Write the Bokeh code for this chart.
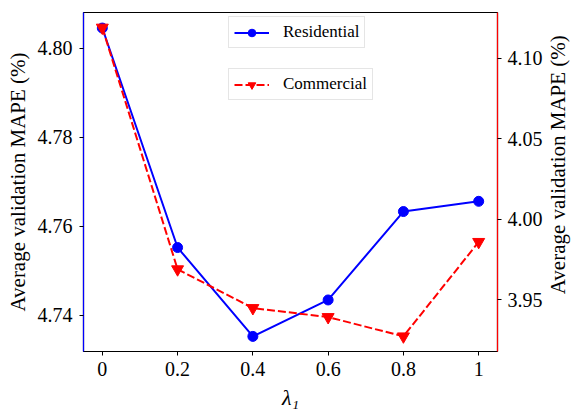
import math
from bokeh.plotting import figure
from bokeh.layouts import row
from bokeh.models import Range1d, LinearAxis, FixedTicker, Legend, LegendItem
from bokeh.core.properties import value
from bokeh.embed import file_html
from bokeh.resources import INLINE

lambdas = [0, 0.2, 0.4, 0.6, 0.8, 1.0]
x_tick_labels = ["0", "0.2", "0.4", "0.6", "0.8", "1"]
residential = [4.8046, 4.7552, 4.7352, 4.7434, 4.7633, 4.7656]
commercial = [4.1190, 3.9688, 3.9447, 3.9391, 3.9271, 3.9858]
left_ticks = [4.74, 4.76, 4.78, 4.80]
right_ticks = [3.95, 4.00, 4.05, 4.10]
y_label = "Average validation MAPE (%)"

FONT = "Liberation Serif"

p = figure(width=545, height=412, output_backend="svg", toolbar_location=None,
           x_range=Range1d(-0.05, 1.05), y_range=Range1d(4.7318, 4.8081),
           min_border_left=83, min_border_right=47, min_border_top=12, min_border_bottom=56)
p.extra_y_ranges = {"right": Range1d(3.9177, 4.1284)}
p.grid.visible = False
p.outline_line_color = "black"
p.outline_line_width = 1.2
p.background_fill_color = "white"
p.border_fill_color = "white"

def style_axis(ax, label, line_color, label_size):
    if label is not None:
        ax.axis_label = label
    ax.axis_label_text_font = FONT
    ax.axis_label_text_font_size = label_size
    ax.axis_label_text_color = "black"
    ax.axis_label_text_font_style = "normal"
    ax.major_label_text_font = FONT
    ax.major_label_text_font_size = "20px"
    ax.major_label_text_color = "black"
    ax.axis_line_color = line_color
    ax.axis_line_width = 1.2
    ax.major_tick_line_color = "black"
    ax.major_tick_in = 0
    ax.major_tick_out = 4
    ax.minor_tick_line_color = None

# x axis
xa = p.xaxis[0]
xa.ticker = FixedTicker(ticks=lambdas)
xa.major_label_overrides = {v: s for v, s in zip(lambdas, x_tick_labels)}
style_axis(xa, "λ₁", "black", "22px")
xa.axis_label_text_font_style = "italic"
xa.axis_label_standoff = 6
xa.major_label_standoff = 6

# left axis
ya = p.yaxis[0]
ya.ticker = FixedTicker(ticks=left_ticks)
ya.major_label_overrides = {v: "%.2f" % v for v in left_ticks}
style_axis(ya, y_label, "blue", "21px")
ya.axis_label_standoff = 5
ya.major_label_standoff = 7

# right axis: ticks and red spine
ra = LinearAxis(y_range_name="right")
ra.ticker = FixedTicker(ticks=right_ticks)
ra.major_label_overrides = {v: "%.2f" % v for v in right_ticks}
style_axis(ra, None, "red", "21px")
ra.major_label_standoff = 6
p.add_layout(ra, "right")

# series
r_line = p.line(lambdas, residential, line_color="blue", line_width=2)
r_pts = p.scatter(lambdas, residential, marker="circle", size=10,
                  fill_color="blue", line_color="blue")
c_line = p.line(lambdas, commercial, line_color="red", line_width=2,
                line_dash="8 3", y_range_name="right")
c_pts = p.scatter(lambdas, commercial, marker="inverted_triangle", size=12,
                  fill_color="red", line_color="red", y_range_name="right")

def make_legend(label, renderers, loc):
    lg = Legend(items=[LegendItem(label=label, renderers=renderers)],
                location=loc, orientation="vertical")
    lg.label_text_font = FONT
    lg.label_text_font_size = "17px"
    lg.label_text_color = "black"
    lg.glyph_width = 35
    lg.glyph_height = 19
    lg.label_standoff = 14
    lg.padding = 5
    lg.margin = 0
    lg.spacing = 0
    lg.border_line_color = "#cccccc"
    lg.border_line_width = 1
    lg.background_fill_color = "white"
    lg.background_fill_alpha = 0.8
    return lg

p.add_layout(make_legend("Residential", [r_line, r_pts], (145, 303)), "center")
p.add_layout(make_legend("Commercial", [c_line, c_pts], (145, 251)), "center")

# narrow strip carrying the right axis label, reading bottom-to-top
s = figure(width=30, height=412, output_backend="svg", toolbar_location=None,
           x_range=Range1d(0, 30), y_range=Range1d(0, 412),
           min_border=0, min_border_left=0, min_border_right=0,
           min_border_top=0, min_border_bottom=0)
s.axis.visible = False
s.grid.visible = False
s.outline_line_color = None
s.background_fill_color = "white"
s.border_fill_color = "white"
s.text(x=[12], y=[227], text=[y_label], angle=math.pi / 2,
       text_align="center", text_baseline="middle",
       text_font=value(FONT), text_font_size="21px", text_color="black")

layout = row(p, s, spacing=0)
open("out.html", "w").write(file_html(layout, INLINE))
